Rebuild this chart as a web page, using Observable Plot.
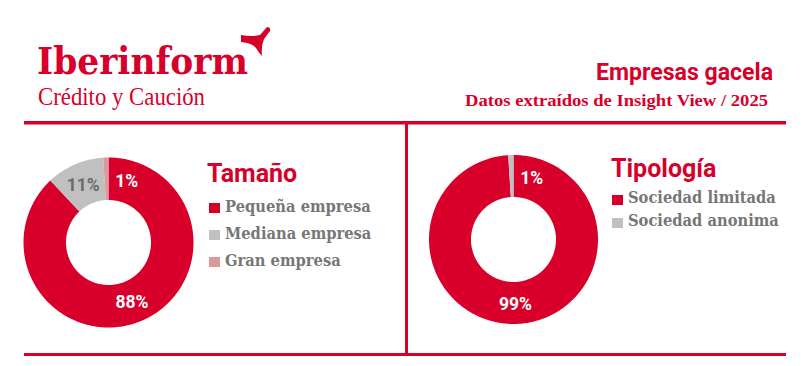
<!DOCTYPE html>
<html>
<head>
<meta charset="utf-8">
<script src="https://cdn.jsdelivr.net/npm/d3@7"></script>
<script src="https://cdn.jsdelivr.net/npm/@observablehq/plot@0.6"></script>
<style>
  html, body { margin: 0; padding: 0; background: #fff; }
  #wrap { position: relative; width: 808px; height: 366px; overflow: hidden; }
  #deco { position: absolute; left: 0; top: 0; }
  .donut { position: absolute; }
</style>
</head>
<body>
<div id="wrap">
  <svg id="deco" width="808" height="366"></svg>
</div>
<script>
// ---- Data ----
const tamanoTitle = "Tamaño";
const tamanoCats = ["Pequeña empresa", "Mediana empresa", "Gran empresa"];
const tamanoValues = [88, 11, 1];
const tamanoColors = ["#d8002b", "#c0c0c0", "#dc9a9a"];
const tamanoLabelColors = ["#ffffff", "#6b6b6b", "#ffffff"];

const tipoTitle = "Tipología";
const tipoCats = ["Sociedad limitada", "Sociedad anonima"];
const tipoValues = [99, 1];
const tipoColors = ["#d8002b", "#c0c0c0"];
const tipoLabelColors = ["#ffffff", "#ffffff"];

const brand = "Iberinform";
const brandSub = "Crédito y Caución";
const mainTitle = "Empresas gacela";
const subTitle = "Datos extraídos de Insight View / 2025";

const RED = "#d8002b";
const wrap = document.getElementById("wrap");
const deco = d3.select("#deco");

// ---- Decorations / header ----
deco.append("text").attr("x", 37).attr("y", 74)
  .attr("font-family", "'DejaVu Serif', serif").attr("font-weight", "bold")
  .attr("font-size", 38).attr("fill", RED)
  .attr("textLength", 211).attr("lengthAdjust", "spacingAndGlyphs").text(brand);
deco.append("path")
  .attr("d", "M241,35 Q252,37 260,35 L267,27 Q271,27 270,31 L264,39 Q261,46 262,56 Q259,53 256,48 Q252,43 241,42 Z")
  .attr("fill", RED);
deco.append("text").attr("x", 38).attr("y", 105)
  .attr("font-family", "'Liberation Serif', serif")
  .attr("font-size", 24.5).attr("fill", RED)
  .attr("textLength", 167).attr("lengthAdjust", "spacingAndGlyphs").text(brandSub);

deco.append("text").attr("x", 773).attr("y", 80).attr("text-anchor", "end")
  .attr("font-family", "Roboto, sans-serif").attr("font-weight", "bold")
  .attr("font-size", 24).attr("fill", RED)
  .attr("textLength", 177).attr("lengthAdjust", "spacingAndGlyphs").text(mainTitle);
deco.append("text").attr("x", 768).attr("y", 106).attr("text-anchor", "end")
  .attr("font-family", "'Liberation Serif', serif").attr("font-weight", "bold")
  .attr("font-size", 17.5).attr("fill", RED)
  .attr("textLength", 303).attr("lengthAdjust", "spacingAndGlyphs").text(subTitle);

deco.append("rect").attr("x", 24).attr("y", 121).attr("width", 762).attr("height", 3.5).attr("fill", RED);
deco.append("rect").attr("x", 24).attr("y", 353).attr("width", 762).attr("height", 3).attr("fill", RED);
deco.append("rect").attr("x", 405).attr("y", 121).attr("width", 3).attr("height", 235).attr("fill", RED);

// ---- Legends ----
function legend(title, tx, ty, cats, colors, sx, sy0, dy, sqTop) {
  deco.append("text").attr("x", tx).attr("y", ty)
    .attr("font-family", "Roboto, sans-serif").attr("font-weight", "bold")
    .attr("font-size", 25).attr("fill", RED).text(title);
  cats.forEach((c, i) => {
    const by = sy0 + i * dy;
    deco.append("rect").attr("x", sx).attr("y", by - sqTop).attr("width", 11).attr("height", 10).attr("fill", colors[i]);
    deco.append("g").attr("transform", `translate(${sx + 16},${by}) scale(0.84,1)`)
      .append("text").attr("x", 0).attr("y", 0)
      .attr("font-family", "'DejaVu Serif', serif").attr("font-weight", "bold")
      .attr("font-size", 17.5).attr("fill", "#767676").text(c);
  });
}
legend(tamanoTitle, 207, 182, tamanoCats, tamanoColors, 209, 212, 27, 9);
legend(tipoTitle, 611, 177, tipoCats, tipoColors, 612, 203, 23, 8);

// ---- Donuts ----
function donutData(values, colors, labelColors, rOuter, rInner) {
  const total = d3.sum(values);
  const pts = [], labels = [];
  let acc = 0;
  values.forEach((v, i) => {
    const a0 = acc / total * 2 * Math.PI;
    const a1 = (acc + v) / total * 2 * Math.PI;
    acc += v;
    const n = Math.max(2, Math.ceil((a1 - a0) / (Math.PI / 180)));
    for (let j = 0; j <= n; j++) {
      const a = a0 + (a1 - a0) * j / n;
      pts.push({k: i, color: colors[i], x: rOuter * Math.sin(a), y: rOuter * Math.cos(a)});
    }
    for (let j = n; j >= 0; j--) {
      const a = a0 + (a1 - a0) * j / n;
      pts.push({k: i, color: colors[i], x: rInner * Math.sin(a), y: rInner * Math.cos(a)});
    }
    let mid = (a0 + a1) / 2;
    let rl = (rOuter + rInner) / 2;
    if (v / total < 0.05) { mid += 18 * Math.PI / 180; rl = 65; }
    labels.push({text: v + "%", color: labelColors[i], x: rl * Math.sin(mid), y: rl * Math.cos(mid)});
  });
  return {pts, labels};
}

function drawDonut(values, colors, labelColors, cx, cy, rOuter, rInner) {
  const {pts, labels} = donutData(values, colors, labelColors, rOuter, rInner);
  const S = 100;
  const chart = Plot.plot({
    width: 2 * S, height: 2 * S, margin: 0,
    x: {domain: [-S, S], axis: null},
    y: {domain: [-S, S], axis: null},
    style: {background: "transparent", overflow: "visible"},
    marks: [
      Plot.line(pts, {x: "x", y: "y", z: "k", fill: "color", stroke: "none", curve: "linear-closed"}),
      Plot.text(labels, {x: "x", y: "y", text: "text", fill: "color",
        fontSize: 17.5, fontWeight: "bold", fontFamily: "Roboto, sans-serif", dy: 1})
    ]
  });
  chart.classList.add("donut");
  chart.style.left = (cx - S) + "px";
  chart.style.top = (cy - S) + "px";
  wrap.appendChild(chart);
}

drawDonut(tamanoValues, tamanoColors, tamanoLabelColors, 108, 242, 85, 42.5);
drawDonut(tipoValues, tipoColors, tipoLabelColors, 513, 238.5, 84.5, 42.5);
</script>
</body>
</html>
